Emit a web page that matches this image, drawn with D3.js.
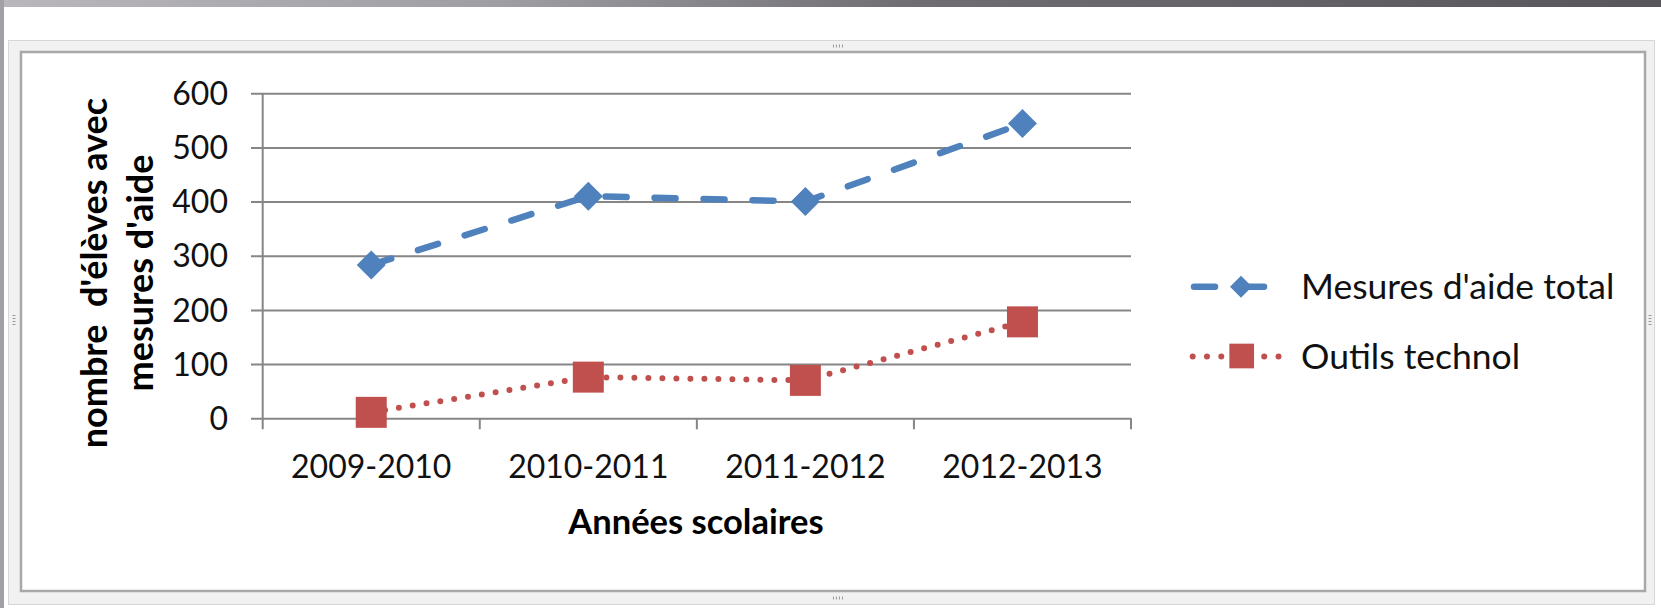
<!DOCTYPE html>
<html>
<head>
<meta charset="utf-8">
<script src="https://d3js.org/d3.v7.min.js"></script>
<style>
  body { margin: 0; background: #fff; overflow: hidden; }
  text { font-family: Lato, "Open Sans", sans-serif; }
</style>
</head>
<body>
<svg id="chart" width="1661" height="608"></svg>
<script>
    // chart data
    var categories = ["2009-2010", "2010-2011", "2011-2012", "2012-2013"];
    var totalValues = [283, 410, 400, 544];
    var technoValues = [11, 76, 70, 178];
    var yTicks = [0, 100, 200, 300, 400, 500, 600];
    var seriesNames = ["Mesures d'aide total", "Outils technol"];

    var blue = "#4f81bd", red = "#c0504d", grid = "#868686";

    var svg = d3.select("#chart");

    // window chrome around the embedded chart
    var grad = svg.append("defs").append("linearGradient").attr("id", "topbar");
    grad.append("stop").attr("offset", "0%").attr("stop-color", "#b9b7bd");
    grad.append("stop").attr("offset", "30%").attr("stop-color", "#a09ea5");
    grad.append("stop").attr("offset", "55%").attr("stop-color", "#6f6c74");
    grad.append("stop").attr("offset", "100%").attr("stop-color", "#58555d");
    svg.append("rect").attr("x", 0).attr("y", 0).attr("width", 1661).attr("height", 7).attr("fill", "url(#topbar)");
    svg.append("rect").attr("x", 0).attr("y", 0).attr("width", 4).attr("height", 608).attr("fill", "#a29fa7");

    svg.append("rect").attr("x", 8.5).attr("y", 40.5).attr("width", 1646).attr("height", 564)
        .attr("fill", "#f1f1f1").attr("stroke", "#d6d6d6").attr("stroke-width", 1);
    svg.append("rect").attr("x", 21).attr("y", 52).attr("width", 1624).attr("height", 539)
        .attr("fill", "#fff").attr("stroke", "#a8a8a8").attr("stroke-width", 2.5);

    // little grip marks on the frame
    function grip(gx, gy, vertical) {
        for (var i = 0; i < 4; i++) {
            var o = (i - 1.5) * 3;
            svg.append("line")
                .attr("x1", vertical ? gx - 1.5 : gx + o).attr("x2", vertical ? gx + 1.5 : gx + o)
                .attr("y1", vertical ? gy + o : gy - 1.5).attr("y2", vertical ? gy + o : gy + 1.5)
                .attr("stroke", "#9a9a9a").attr("stroke-width", 1);
        }
    }
    grip(838, 46, false);
    grip(838, 598, false);
    grip(14, 320, true);
    grip(1650, 320, true);

    // plot area
    var pLeft = 262.7, pRight = 1131, pTop = 93.2, pBottom = 418.3;

    var x = d3.scaleBand().domain(categories).range([pLeft, pRight]);
    var y = d3.scaleLinear().domain([0, 600]).range([pBottom, pTop]);

    // gridlines + y labels
    svg.append("g")
        .attr("transform", "translate(251,0)")
        .call(d3.axisLeft(y).tickValues(yTicks).tickSize(-(pRight - 251)).tickPadding(23))
        .call(function(g) {
            g.select(".domain").remove();
            g.selectAll(".tick line").attr("stroke", grid).attr("stroke-width", 2);
            g.selectAll(".tick text")
                .attr("fill", "#111")
                .style("font-size", "32px")
                .attr("dy", "0.35em");
        });

    // vertical axis line
    svg.append("line")
        .attr("x1", pLeft).attr("x2", pLeft).attr("y1", pTop).attr("y2", pBottom + 11)
        .attr("stroke", grid).attr("stroke-width", 2);

    // category boundary ticks
    var bounds = categories.map(function(c) { return x(c); }).concat([pRight]);
    svg.selectAll(".ctick")
        .data(bounds.slice(1))
        .enter().append("line")
        .attr("x1", function(d) { return d; }).attr("x2", function(d) { return d; })
        .attr("y1", pBottom).attr("y2", pBottom + 11)
        .attr("stroke", grid).attr("stroke-width", 2);

    // x labels
    svg.append("g")
        .attr("transform", "translate(0," + pBottom + ")")
        .call(d3.axisBottom(x).tickSize(0))
        .call(function(g) {
            g.select(".domain").remove();
            g.selectAll(".tick text")
                .attr("fill", "#111")
                .style("font-size", "32px")
                .attr("y", 48.4)
                .attr("dy", "0.35em");
        });

    // axis titles
    svg.append("text")
        .attr("x", 696).attr("y", 534)
        .attr("text-anchor", "middle")
        .style("font-size", "34.5px").style("font-weight", "bold")
        .text("Années scolaires");

    var yTitle = svg.append("g").attr("transform", "translate(107,273) rotate(-90)");
    yTitle.append("text").attr("x", 0).attr("y", 0)
        .attr("text-anchor", "middle")
        .style("font-size", "36px").style("font-weight", "bold")
        .style("white-space", "pre")
        .text("nombre  d'élèves avec");
    yTitle.append("text").attr("x", 0).attr("y", 45.5)
        .attr("text-anchor", "middle")
        .style("font-size", "36px").style("font-weight", "bold")
        .text("mesures d'aide");

    // series
    function cx(c) { return x(c) + x.bandwidth() / 2; }

    var line = d3.line()
        .x(function(d, i) { return cx(categories[i]); })
        .y(function(d) { return y(d); });

    svg.append("path")
        .datum(technoValues)
        .attr("fill", "none")
        .attr("stroke", red)
        .attr("stroke-width", 6)
        .attr("stroke-linecap", "round")
        .attr("stroke-dasharray", "0,14")
        .attr("d", line);

    svg.append("path")
        .datum(totalValues)
        .attr("fill", "none")
        .attr("stroke", blue)
        .attr("stroke-width", 6.5)
        .attr("stroke-linecap", "round")
        .attr("stroke-dasharray", "21,28")
        .attr("d", line);

    var diamond = d3.symbol().type(d3.symbolSquare).size(420);
    var square = d3.symbol().type(d3.symbolSquare).size(961);

    svg.selectAll(".dia")
        .data(totalValues)
        .enter().append("path")
        .attr("class", "dia")
        .attr("d", diamond)
        .attr("fill", blue)
        .attr("transform", function(d, i) {
            return "translate(" + cx(categories[i]) + "," + y(d) + ") rotate(45)";
        });

    svg.selectAll(".sq")
        .data(technoValues)
        .enter().append("path")
        .attr("class", "sq")
        .attr("d", square)
        .attr("fill", red)
        .attr("transform", function(d, i) {
            return "translate(" + cx(categories[i]) + "," + y(d) + ")";
        });

    // legend
    var lg = svg.append("g");
    lg.append("line")
        .attr("x1", 1194).attr("x2", 1264).attr("y1", 286.7).attr("y2", 286.7)
        .attr("stroke", blue).attr("stroke-width", 6.5)
        .attr("stroke-linecap", "round").attr("stroke-dasharray", "21,28");
    lg.append("path")
        .attr("d", d3.symbol().type(d3.symbolSquare).size(242))
        .attr("fill", blue)
        .attr("transform", "translate(1241,286.7) rotate(45)");
    lg.append("line")
        .attr("x1", 1192.7).attr("x2", 1280).attr("y1", 356.5).attr("y2", 356.5)
        .attr("stroke", red).attr("stroke-width", 6)
        .attr("stroke-linecap", "round").attr("stroke-dasharray", "0,14.3");
    lg.append("path")
        .attr("d", d3.symbol().type(d3.symbolSquare).size(610))
        .attr("fill", red)
        .attr("transform", "translate(1241.7,356)");

    lg.selectAll(".ltext")
        .data(seriesNames)
        .enter().append("text")
        .attr("x", 1301)
        .attr("y", function(d, i) { return 286.7 + i * 70; })
        .attr("dy", "0.35em")
        .attr("fill", "#111")
        .style("font-size", "35.5px")
        .text(function(d) { return d; });
</script>
</body>
</html>
